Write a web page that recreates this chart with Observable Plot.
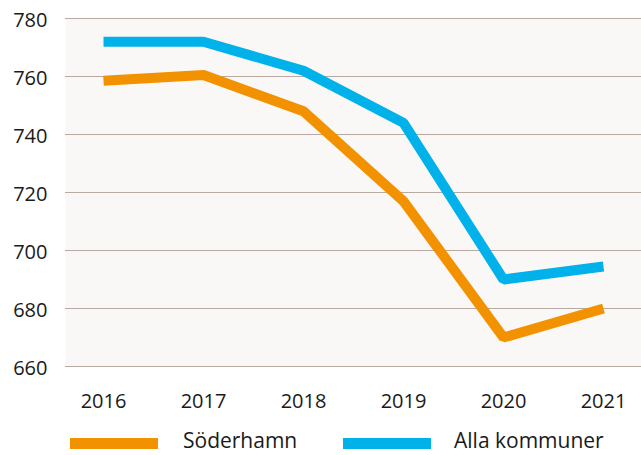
<!DOCTYPE html>
<html>
<head>
<meta charset="utf-8">
<script src="https://cdn.jsdelivr.net/npm/d3@7"></script>
<script src="https://cdn.jsdelivr.net/npm/@observablehq/plot@0.6"></script>
<style>
  html, body { margin: 0; padding: 0; background: #ffffff; }
  body { width: 641px; height: 455px; font-family: "Open Sans", sans-serif; color: #1a1a1a; }
  #chart { height: 425px; }
  #legend { position: relative; width: 641px; height: 30px; font-size: 21px; }
  .sw { position: absolute; height: 11px; width: 88px; top: 13px; }
  .lab { position: absolute; top: 1px; line-height: 28px; white-space: nowrap; }
</style>
</head>
<body>
<div id="chart"></div>
<div id="legend"></div>
<script>
const years = ["2016", "2017", "2018", "2019", "2020", "2021"];
const seriesNames = ["Söderhamn", "Alla kommuner"];
const soderhamn = [758.5, 760.5, 748, 717, 670, 680];
const allaKommuner = [772, 772, 762, 744, 690, 694.5];
const colors = ["#f39200", "#00b1ea"];
const yTicks = [660, 680, 700, 720, 740, 760, 780];

const data = [];
years.forEach((yr, i) => {
  data.push({year: yr, value: soderhamn[i], series: seriesNames[0]});
  data.push({year: yr, value: allaKommuner[i], series: seriesNames[1]});
});

const plot = Plot.plot({
  width: 641,
  height: 425,
  marginLeft: 65,
  marginRight: 0,
  marginTop: 18,
  marginBottom: 59,
  style: {fontFamily: "Open Sans, sans-serif", fontSize: "20px", color: "#1a1a1a", background: "transparent", display: "block"},
  x: {type: "point", domain: years, padding: 0.38, label: null},
  y: {domain: [660, 780], ticks: yTicks, label: null},
  color: {domain: seriesNames, range: colors},
  marks: [
    Plot.frame({fill: "#faf8f7", stroke: null}),
    Plot.gridY(yTicks, {stroke: "#b8aaa3", strokeOpacity: 1, strokeWidth: 1}),
    Plot.axisY({ticks: yTicks, tickSize: 0, tickPadding: 18, label: null, dy: 2}),
    Plot.axisX({tickSize: 0, tickPadding: 27, label: null}),
    Plot.line(data, {x: "year", y: "value", z: "series", stroke: "series", strokeWidth: 10, strokeLinecap: "butt", strokeLinejoin: "miter", curve: "linear"})
  ]
});
document.getElementById("chart").appendChild(plot);

const legend = document.getElementById("legend");
const swX = [70, 343];
const labX = [183, 454];
seriesNames.forEach((name, i) => {
  const sw = document.createElement("div");
  sw.className = "sw";
  sw.style.left = swX[i] + "px";
  sw.style.background = colors[i];
  legend.appendChild(sw);
  const lab = document.createElement("div");
  lab.className = "lab";
  lab.style.left = labX[i] + "px";
  lab.textContent = name;
  legend.appendChild(lab);
});
</script>
</body>
</html>
